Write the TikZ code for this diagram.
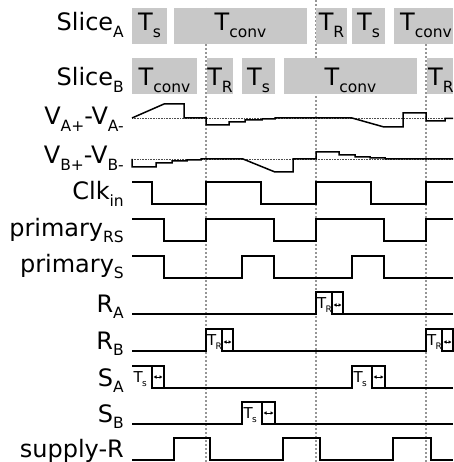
\documentclass[tikz,border=0pt]{standalone}
\usepackage{fontspec}
\setmainfont{DejaVu Sans}
\usetikzlibrary{arrows.meta}
\newcommand\sbx[1]{\raisebox{-6.5pt}{\fontsize{15.5}{15.5}\selectfont #1}}
\newcommand\ssbx[1]{\kern-0.8pt\raisebox{-3.5pt}{\fontsize{9}{9}\selectfont #1}}
\definecolor{boxgray}{RGB}{200,200,200}
\definecolor{guide}{RGB}{150,150,150}
\begin{document}
\begin{tikzpicture}[x=1pt,y=-1pt,
 lab/.style={anchor=base east, inner sep=0pt, font=\fontsize{24}{24}\selectfont},
 tl/.style={anchor=base, inner sep=0pt, font=\fontsize{24}{24}\selectfont},
 tlw/.style={anchor=base west, inner sep=0pt, font=\fontsize{24}{24}\selectfont},
 stl/.style={anchor=base west, inner sep=0pt, font=\fontsize{15}{15}\selectfont},
 slbox/.style={fill=boxgray},
 sig/.style={line width=1.5pt, line join=miter},
 guideline/.style={draw=guide, line width=2pt, dash pattern=on 2pt off 2pt},
 zero/.style={draw=black!70, line width=0.8pt, dash pattern=on 0.8pt off 0.8pt},
 unc/.style={line width=1.2pt},
 dbl/.style={{Latex[length=3pt,width=3.8pt]}-{Latex[length=3pt,width=3.8pt]}, line width=0.9pt}]
\useasboundingbox (0,0) rectangle (453,462);

% guide lines
\coordinate (g1t) at (206,8);  \coordinate (g1b) at (206,462);
\coordinate (g2t) at (316,0);  \coordinate (g2b) at (316,462);
\coordinate (g3t) at (426,8);  \coordinate (g3b) at (426,462);
\draw[guideline] (g1t) -- (g1b);
\draw[guideline] (g2t) -- (g2b);
\draw[guideline] (g3t) -- (g3b);

% slice A boxes
\fill[slbox] (132,8) rectangle (167,44);
\fill[slbox] (174,8) rectangle (307,44);
\fill[slbox] (316,8) rectangle (347,44);
\fill[slbox] (352,8) rectangle (385,44);
\fill[slbox] (394,8) rectangle (453,44);
\node[tl] (a1) at (149.5,31) {T\sbx{s}};
\node[tl] (a2) at (240.5,31) {T\sbx{conv}};
\node[tl] (a3) at (331.5,31) {T\sbx{R}};
\node[tl] (a4) at (368.5,31) {T\sbx{s}};
\node[tlw] (a5) at (400,31) {T\sbx{conv}};

% slice B boxes
\fill[slbox] (132,58) rectangle (197,94);
\fill[slbox] (207,58) rectangle (233,94);
\fill[slbox] (242,58) rectangle (275,94);
\fill[slbox] (284,58) rectangle (417,94);
\fill[slbox] (427,58) rectangle (453,94);
\node[tl] (b1) at (164.5,86) {T\sbx{conv}};
\node[tl] (b2) at (220,86) {T\sbx{R}};
\node[tl] (b3) at (258.5,86) {T\sbx{s}};
\node[tl] (b4) at (350.5,86) {T\sbx{conv}};
\node[tlw] (b5) at (428,86) {T\sbx{R}};

% row labels
\node[lab] (lsa) at (124,31) {Slice\sbx{A}};
\node[lab] (lsb) at (124,86) {Slice\sbx{B}};
\node[lab] (lva) at (124,125) {V\sbx{A+}-V\sbx{A-}};
\node[lab] (lvb) at (124,164) {V\sbx{B+}-V\sbx{B-}};
\node[lab] (lclk) at (124,200) {Clk\sbx{in}};
\node[lab] (lprs) at (124,236) {primary\sbx{RS}};
\node[lab] (lps) at (124,272) {primary\sbx{S}};
\node[lab] (lra) at (124,312) {R\sbx{A}};
\node[lab] (lrb) at (124,349) {R\sbx{B}};
\node[lab] (lsA) at (124,386) {S\sbx{A}};
\node[lab] (lsB) at (124,422) {S\sbx{B}};
\node[lab] (lsup) at (124,457) {supply-R};

% zero lines of analog signals
\draw[zero] (132,118) -- (453,118);
\draw[zero] (132,159) -- (453,159);

% V_A
\draw[sig] (132,118) -- (164,104) -- (184,104) -- (184,118) -- (206,118) -- (206,125)
 -- (229,125) -- (229,122) -- (245,122) -- (245,120) -- (262,120) -- (262,119) -- (275,119) -- (275,118)
 -- (352,118) -- (384,127) -- (403,127) -- (403,113) -- (426,113) -- (426,121)
 -- (445,121) -- (445,118.5) -- (453,118.5);
% V_B
\draw[sig] (132,159) -- (132,167) -- (156,167) -- (156,163) -- (172,163) -- (172,161)
 -- (187,161) -- (187,160) -- (201,160) -- (201,159) -- (243,159) -- (275,172) -- (293,172)
 -- (293,159) -- (316,159) -- (316,152) -- (339,152) -- (339,155) -- (355,155) -- (355,157)
 -- (370,157) -- (370,158) -- (385,158) -- (385,159) -- (453,159);

% Clk_in
\draw[sig] (132,182) -- (152,182) -- (152,204) -- (206,204) -- (206,182) -- (261,182)
 -- (261,204) -- (316,204) -- (316,182) -- (371,182) -- (371,204) -- (426,204) -- (426,182) -- (453,182);
% primary_RS
\draw[sig] (132,219) -- (164,219) -- (164,241) -- (206,241) -- (206,219) -- (274,219)
 -- (274,241) -- (316,241) -- (316,219) -- (384,219) -- (384,241) -- (426,241) -- (426,219) -- (453,219);
% primary_S
\draw[sig] (132,256) -- (164,256) -- (164,278) -- (242,278) -- (242,256) -- (274,256)
 -- (274,278) -- (352,278) -- (352,256) -- (384,256) -- (384,278) -- (453,278);

% R_A
\draw[sig] (132,314) -- (316,314) -- (316,292) -- (332,292) -- (332,314) -- (453,314);
\draw[unc] (332,292) rectangle (343,314);
\draw[dbl] (333.5,305) -- (341.5,305);
\node[stl] (tra) at (317,308.5) {T\ssbx{R}};
% R_B
\draw[sig] (132,351) -- (206,351) -- (206,329) -- (222,329) -- (222,351) -- (426,351)
 -- (426,329) -- (442,329) -- (442,351) -- (453,351);
\draw[unc] (222,329) rectangle (233,351);
\draw[unc] (442,329) rectangle (453,351);
\draw[dbl] (223.5,342) -- (231.5,342);
\draw[dbl] (443.5,342) -- (451.5,342);
\node[stl] (trb1) at (207,345.5) {T\ssbx{R}};
\node[stl] (trb2) at (427,345.5) {T\ssbx{R}};
% S_A
\draw[sig] (132,366) -- (152,366) -- (152,388) -- (352,388) -- (352,366) -- (372,366) -- (372,388) -- (453,388);
\draw[unc] (152,366) rectangle (164,388);
\draw[unc] (372,366) rectangle (385,388);
\draw[dbl] (153.5,377) -- (162.5,377);
\draw[dbl] (373.5,377) -- (383.5,377);
\node[stl] (tsa1) at (133.5,382.5) {T\ssbx{s}};
\node[stl] (tsa2) at (353.5,382.5) {T\ssbx{s}};
% S_B
\draw[sig] (132,424) -- (242,424) -- (242,402) -- (262,402) -- (262,424) -- (453,424);
\draw[unc] (262,402) rectangle (275,424);
\draw[dbl] (263.5,413) -- (273.5,413);
\node[stl] (tsb) at (243.5,418.5) {T\ssbx{s}};
% supply-R
\draw[sig] (132,460) -- (174,460) -- (174,438) -- (210,438) -- (210,460) -- (283,460)
 -- (283,438) -- (320,438) -- (320,460) -- (393,460) -- (393,438) -- (431,438) -- (431,460) -- (453,460);
\end{tikzpicture}
\end{document}
